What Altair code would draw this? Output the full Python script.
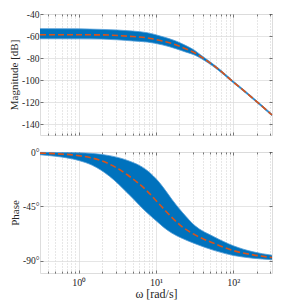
import altair as alt
import pandas as pd

# ---- data ----
mag_w = [0.316, 1, 2, 5, 7.7, 12, 18, 24, 32, 38, 61, 98, 157, 316]
mag_top = [-53.3, -53.5, -54.0, -55.5, -57.0, -60.5, -64.5, -68.5, -73.3, -77.3, -88.0, -100.5, -112.4, -131.0]
mag_mean = [-58.9, -58.9, -59.0, -60.5, -61.7, -64.5, -68.0, -71.5, -75.5, -78.8, -89.0, -101.3, -113.2, -131.8]
mag_bot = [-62.5, -62.6, -62.8, -64.5, -65.5, -68.0, -71.5, -74.5, -77.5, -80.3, -90.0, -102.1, -114.0, -132.6]

ph_w = [0.316, 0.5, 1, 1.5, 2.5, 4.3, 7.6, 11, 13, 16, 22, 32, 56, 100, 180, 316]
ph_top = [-0.3, -0.4, -0.7, -1.2, -3.0, -7.0, -15.0, -25.0, -31.0, -39.0, -50.0, -61.0, -70.0, -77.5, -82.5, -85.3]
ph_mean = [-0.9, -1.4, -3.0, -5.0, -10.0, -19.0, -32.0, -43.0, -48.0, -54.0, -62.0, -68.5, -75.5, -81.5, -85.0, -87.2]
ph_bot = [-2.3, -3.5, -7.0, -11.0, -20.0, -34.0, -50.0, -59.0, -63.0, -67.0, -71.5, -75.8, -81.3, -85.5, -87.8, -89.0]

x_major = [1, 10, 100]
x_minor = [0.4, 0.5, 0.6, 0.7, 0.8, 0.9, 2, 3, 4, 5, 6, 7, 8, 9,
           20, 30, 40, 50, 60, 70, 80, 90, 200, 300]
mag_ticks = [-140, -120, -100, -80, -60, -40]
ph_ticks = [-90, -45, 0]

BLUE = "#0072BD"
ORANGE = "#D95319"
FRAME = "#262626"
FONT = "Liberation Serif"

xscale = alt.Scale(type="log", domain=[10 ** -0.5, 10 ** 2.5], nice=False)


def tick_axis(orient, values, size):
    return alt.Axis(orient=orient, values=values, grid=False, labels=False, ticks=True,
                    tickSize=size, tickColor=FRAME, tickWidth=0.6, domain=False,
                    offset=-size, title=None)


def panel(w, top, mean, bot, ydom, yticks, ytitle, ylabel_expr, bottom):
    df = pd.DataFrame({"w": w, "top": top, "mean": mean, "bot": bot})
    yscale = alt.Scale(domain=ydom, nice=False, zero=False)
    base = alt.Chart(df)

    minor_axis = alt.Axis(orient="bottom", values=x_minor, labels=False, title=None,
                          grid=True, gridColor="#b0b0b0", gridDash=[1, 2], gridWidth=0.6,
                          ticks=True, tickSize=2, tickColor=FRAME, tickWidth=0.6,
                          domain=False, offset=-2)
    major_kw = dict(orient="bottom", values=x_major, grid=True, gridColor="#dadada",
                    gridWidth=0.7, ticks=True, tickSize=3, tickColor=FRAME, tickWidth=0.6,
                    domain=False, offset=-3)
    if bottom:
        major_axis = alt.Axis(**major_kw, labels=True, labelFont=FONT, labelFontSize=10,
                              labelColor="#262626", labelPadding=4,
                              labelExpr="datum.value == 1 ? '10⁰' : (datum.value == 10 ? '10¹' : '10²')",
                              title="ω [rad/s]", titleFont=FONT, titleFontSize=12,
                              titleFontWeight="normal", titleColor="#262626", titlePadding=1)
    else:
        major_axis = alt.Axis(**major_kw, labels=False, title=None)

    yaxis = alt.Axis(orient="left", values=yticks, grid=True, gridColor="#dadada", gridWidth=0.7,
                     ticks=True, tickSize=3, tickColor=FRAME, tickWidth=0.6, domain=False,
                     offset=-3, labelFont=FONT, labelFontSize=9.5, labelColor="#262626",
                     labelPadding=1, labelExpr=ylabel_expr,
                     title=ytitle, titleFont=FONT, titleFontSize=11,
                     titleFontWeight="normal", titleColor="#262626", titlePadding=2)

    band = base.mark_area(color=BLUE, opacity=1, interpolate="monotone").encode(
        x=alt.X("w:Q", scale=xscale, axis=minor_axis),
        y=alt.Y("top:Q", scale=yscale, axis=yaxis),
        y2="bot:Q",
    )
    edge_top = base.mark_line(color="#4f9ad6", strokeWidth=0.8, interpolate="monotone").encode(
        x=alt.X("w:Q", scale=xscale, axis=tick_axis("top", x_minor, 2)),
        y=alt.Y("top:Q", scale=yscale, axis=None),
    )
    edge_bot = base.mark_line(color="#4f9ad6", strokeWidth=0.8, interpolate="monotone").encode(
        x=alt.X("w:Q", scale=xscale, axis=tick_axis("top", x_major, 3)),
        y=alt.Y("bot:Q", scale=yscale, axis=None),
    )
    mean_line = base.mark_line(color=ORANGE, strokeWidth=1.6, strokeDash=[6, 3],
                               interpolate="monotone").encode(
        x=alt.X("w:Q", scale=xscale, axis=major_axis),
        y=alt.Y("mean:Q", scale=yscale, axis=tick_axis("right", yticks, 3)),
    )
    return alt.layer(band, edge_top, edge_bot, mean_line).resolve_axis(
        x="independent", y="independent"
    ).properties(width=232, height=121)


top_panel = panel(mag_w, mag_top, mag_mean, mag_bot, [-150, -40], mag_ticks,
                  "Magnitude [dB]", "toString(datum.value)", False)
bottom_panel = panel(ph_w, ph_top, ph_mean, ph_bot, [-100, 0], ph_ticks,
                     "Phase", "toString(datum.value) + '°'", True)

chart = alt.vconcat(top_panel, bottom_panel, spacing=10).properties(
    padding={"left": 0, "top": 0, "right": 0, "bottom": 0}
).configure_view(stroke=FRAME, strokeWidth=0.8).configure(background="white", font=FONT)

chart.save("out.html", embed_options={"renderer": "svg", "actions": False})
